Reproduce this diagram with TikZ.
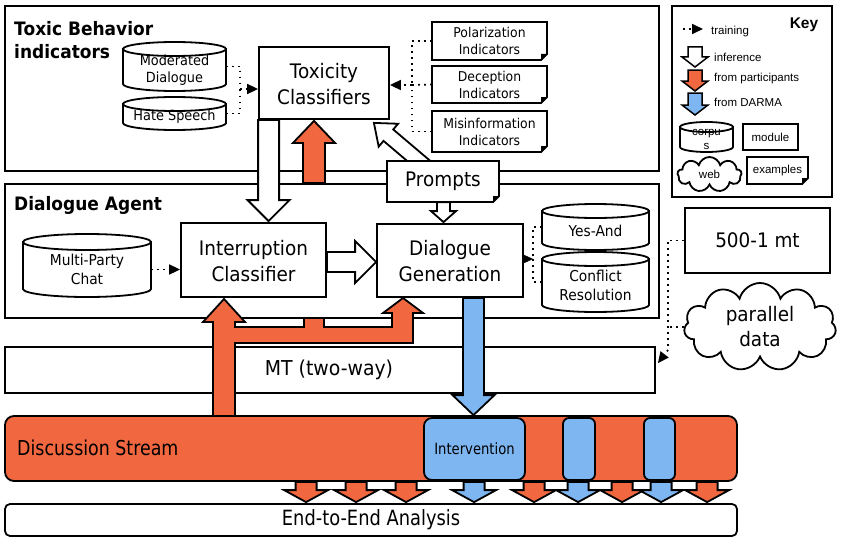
\documentclass[tikz,border=0pt]{standalone}
\usepackage{fontspec}
\setmainfont{DejaVu Sans}[FakeStretch=0.92]
\newfontfamily\condf{DejaVu Sans}[FakeStretch=0.85]
\newfontfamily\arialf{Liberation Sans}
\usetikzlibrary{arrows.meta,calc,fit,shapes.symbols}
\definecolor{orng}{RGB}{241,104,64}
\definecolor{blu}{RGB}{126,182,242}

\newcommand{\blockarrow}[6]{%
  \coordinate (bA) at (#1); \coordinate (bB) at (#2);
  \coordinate (bH) at ($(bB)!#5!(bA)$);
  \draw[#6] ($(bA)!#3!90:(bB)$) -- ($(bH)!#3!90:(bB)$) -- ($(bH)!#4!90:(bB)$) -- (bB)
    -- ($(bH)!#4!-90:(bB)$) -- ($(bH)!#3!-90:(bB)$) -- ($(bA)!#3!-90:(bB)$) -- cycle;}

\newcommand{\cylshape}[8]{%
  \node[inner sep=0pt, fit={(#2,#3) (#4,#5)}] (#1) {};
  \draw[bline, fill=white] (#2,#3+#6) -- (#2,#5-#6)
    arc[start angle=180, end angle=360, x radius={(#4-#2)/2*1pt}, y radius={#6*1pt}]
    -- (#4,#3+#6) -- cycle;
  \draw[bline, fill=white] ({(#2+#4)/2},#3+#6) ellipse[x radius={(#4-#2)/2*1pt}, y radius={#6*1pt}];
  \node[align=center, inner sep=0pt, font=#7] (#1-t) at ($(#1.center)+(0,#6*0.5)$) {#8};}

\newcommand{\docshape}[7]{%
  \node[inner sep=0pt, fit={(#2,#3) (#4,#5)}] (#1) {};
  \draw[bline, fill=white] (#2,#3) -- (#4,#3) -- (#4,#5-6) -- (#4-6,#5) -- (#2,#5) -- cycle;
  \fill (#4,#5-6) -- (#4-6,#5) -- (#4-6,#5-6) -- cycle;
  \node[align=center, inner sep=0pt, font=#6] (#1-t) at (#1.center) {#7};}

\begin{document}
\begin{tikzpicture}[x=1pt, y=-1pt, line join=miter,
  bline/.style={line width=1.8pt},
  box/.style={draw, bline, fill=white, inner sep=0pt},
  lbl/.style={inner sep=0pt, align=center},
  dotline/.style={line width=1.7pt, dash pattern=on 1.7pt off 4.3pt},
  tri/.style={-{Triangle[length=11pt,width=10pt]}},
  f20/.style={lbl, font=\fontsize{20}{26}\selectfont},
  ttl/.style={font=\bfseries\fontsize{18.5}{23}\selectfont, inner sep=0pt, anchor=west, align=left},
  keyt/.style={font=\arialf\fontsize{11.5}{14}\selectfont, inner sep=0pt, anchor=west}]
\useasboundingbox (0,0) rectangle (845,543);
\fill[white] (0,0) rectangle (845,543);

% ---------- main frames ----------
\node[box, fit={(5,6) (659,171)}] (topbox) {};
\node[box, fit={(5,184) (659,318)}] (agent) {};
\node[box, fit={(5,347) (655,393)}] (mt) {};
\node[lbl, font=\fontsize{20.5}{24}\selectfont] (mt-t) at (329,370) {MT (two-way)};
\node[ttl] (t1) at (14,40.5) {Toxic Behavior\\indicators};
\node[ttl] (t2) at (14,205) {Dialogue Agent};

% ---------- Toxic behaviour contents ----------
\cylshape{modd}{123}{42}{226}{91}{7}{\fontsize{14}{17}\selectfont}{Moderated\\Dialogue}
\cylshape{hate}{123}{97}{226}{130}{7}{\fontsize{14}{17}\selectfont}{Hate Speech}
\node[box, fit={(259,47) (389,119)}] (tox) {};
\node[f20] (tox-t) at ($(tox.center)+(0,1)$) {Toxicity\\Classifiers};
\docshape{pol}{432}{22}{547}{60}{\fontsize{13.5}{17}\selectfont}{Polarization\\Indicators}
\docshape{dec}{432}{66}{547}{103}{\fontsize{13.5}{17}\selectfont}{Deception\\Indicators}
\docshape{mis}{432}{111}{547}{152}{\fontsize{13.5}{17}\selectfont}{Misinformation\\Indicators}

\coordinate (j1) at (240,89);
\draw[dotline] (modd.east) -| (j1);
\draw[dotline] (hate.east) -| (j1);
\draw[dotline, tri] (j1) -- (j1 -| tox.west);
\coordinate (j2) at (412,85);
\draw[dotline] (pol.west) -| (j2);
\draw[dotline] (mis.west) -| (j2);
\draw[dotline] (dec.west) -- (j2);
\draw[dotline, tri] (j2) -- (j2 -| tox.east);

% ---------- Key ----------
\node[box, fit={(672,6) (832,197)}] (key) {};
\node[font=\arialf\bfseries\fontsize{15.5}{18}\selectfont, inner sep=0pt] (keyt) at (804,25) {Key};
\coordinate (kt1) at (683,29); \coordinate (kt2) at (703,29);
\draw[dotline, tri] (kt1) -- (kt2);
\node[keyt] (k1) at (711,32) {training};
\blockarrow{695,47}{695,67}{7pt}{13pt}{10pt}{line width=1.5pt, fill=white}
\node[keyt] (k2) at (714,57) {inference};
\blockarrow{695,70}{695,91}{7pt}{13pt}{10pt}{line width=1.5pt, fill=orng}
\node[keyt] (k3) at (714,79) {from participants};
\blockarrow{695,93}{695,115}{7pt}{13pt}{10pt}{line width=1.5pt, fill=blu}
\node[keyt] (k4) at (714,102) {from DARMA};
\cylshape{kcorp}{680}{122}{733}{152}{5}{\arialf\fontsize{11.5}{14}\selectfont}{corpu\\s}
\node[box, fit={(743,124) (798,150)}] (kmod) {};
\node[lbl, font=\arialf\fontsize{11.5}{14}\selectfont] (kmod-t) at (kmod.center) {module};
\node[cloud, draw, bline, fill=white, cloud puffs=9, cloud ignores aspect, minimum width=64pt, minimum height=35pt, inner sep=0pt, font=\arialf\fontsize{11.5}{14}\selectfont] (kweb) at (709.5,174.5) {web};
\docshape{kex}{747}{157}{808}{184}{\arialf\fontsize{11.5}{14}\selectfont}{examples}

% ---------- Dialogue agent contents ----------
\cylshape{mpc}{23}{234}{151}{297}{8}{\fontsize{15}{19}\selectfont}{Multi-Party\\Chat}
\node[box, fit={(181,223) (326,297)}] (intc) {};
\node[f20] (intc-t) at ($(intc.center)+(0,1)$) {Interruption\\Classifier};
\node[box, fit={(377,224) (523,297)}] (dgen) {};
\node[f20] (dgen-t) at ($(dgen.center)+(0,1)$) {Dialogue\\Generation};
\cylshape{yes}{542}{204}{649}{250}{7}{\fontsize{15}{19}\selectfont}{Yes-And}
\cylshape{conf}{542}{252}{649}{312}{7}{\fontsize{15}{19}\selectfont}{Conflict\\Resolution}
\draw[dotline, tri] ($(mpc.east)+(0,4)$) -- ($(mpc.east -| intc.west)+(0,4)$);
\coordinate (j3) at (533,259);
\draw[dotline] (yes.west) -| (j3);
\draw[dotline] (conf.west) -| (j3);
\draw[tri] (j3 -| dgen.east) -- (j3);

% ---------- right side ----------
\node[box, fit={(685,208) (830,273)}] (mt500) {};
\node[f20] (mt500-t) at (mt500.center) {500-1 mt};
\node[cloud, draw, bline, fill=white, cloud puffs=11, cloud ignores aspect, minimum width=152pt, minimum height=88pt, inner sep=1pt, align=center, font=\fontsize{20}{25}\selectfont] (par) at (760,327) {parallel\\data};
\coordinate (j4) at (668,240.5);
\coordinate (j5) at (668,350);
\draw[dotline] (mt500.west) -- (j4) -- (j5);
\draw[dotline] (par.west) -- (par.west -| j4);
\draw[dotline, tri] (j5) -- ($(mt.north east)+(2,17)$);

% ---------- Discussion stream and analysis ----------
\node[draw, bline, fill=orng, rounded corners=9pt, inner sep=0pt, fit={(5,416) (737,481)}] (disc) {};
\node[anchor=west, inner sep=0pt, font=\condf\fontsize{20.5}{24}\selectfont] (dst) at (17,448) {Discussion Stream};
\node[draw, bline, fill=blu, rounded corners=8pt, inner sep=0pt, fit={(424,418) (525,480)}] (intv) {};
\node[lbl, font=\condf\fontsize{15.5}{18}\selectfont] (intv-t) at (intv.center) {Intervention};
\node[draw, bline, fill=blu, rounded corners=6pt, inner sep=0pt, fit={(563,418) (595,480)}] (bar1) {};
\node[draw, bline, fill=blu, rounded corners=6pt, inner sep=0pt, fit={(644,418) (675,480)}] (bar2) {};
\node[draw, bline, fill=white, rounded corners=5pt, inner sep=0pt, fit={(5,504) (737,536)}] (e2e) {};
\node[lbl, font=\condf\fontsize{21}{24}\selectfont] (e2e-t) at (e2e.center) {End-to-End Analysis};

\foreach \cx in {307,357,407,535,623,708}{%
  \blockarrow{$(disc.south west)+(\cx-5,0)$}{$(e2e.north west)+(\cx-5,-1)$}{10.5pt}{22pt}{12pt}{bline, fill=orng}}
\foreach \cx in {475,579,662}{%
  \blockarrow{$(disc.south west)+(\cx-5,0)$}{$(e2e.north west)+(\cx-5,-1)$}{10.5pt}{22pt}{12pt}{bline, fill=blu}}

% ---------- big arrows ----------
\draw[bline, fill=orng] (213,416) -- (213,322) -- (203,322) -- (224,299) -- (245,322) -- (235,322)
  -- (235,327) -- (304,327) -- (304,318) -- (324,318) -- (324,327) -- (392,327) -- (392,313)
  -- (383,313) -- (403,298) -- (423,313) -- (413,313) -- (413,343) -- (235,343) -- (235,416) -- cycle;
\coordinate (o1) at (314,183);
\blockarrow{o1}{$(o1 |- tox.south)+(0,1)$}{11pt}{21pt}{22pt}{bline, fill=orng}
\blockarrow{$(tox.south west)+(10.5,0)$}{$(intc.north west)+(88.5,-1)$}{10.5pt}{21pt}{21pt}{bline, fill=white}
\blockarrow{$(intc.east)+(0,2)$}{$(dgen.west |- intc.east)+(0,2)$}{10pt}{21pt}{21pt}{bline, fill=white}
\blockarrow{$(dgen.south)+(23.5,0)$}{$(intv.north)+(-1,-2)$}{10.5pt}{21pt}{20pt}{bline, fill=blu}

% ---------- prompts ----------
\node[inner sep=0pt, fit={(387,161) (499,202)}] (prmbox) {};
\blockarrow{$(prmbox.north)+(-15,8)$}{$(tox.south east)+(-16,3)$}{7.5pt}{15pt}{19pt}{bline, fill=white}
\docshape{prm}{387}{161}{499}{202}{\fontsize{20}{24}\selectfont}{Prompts}
\blockarrow{$(prm.south)+(0.5,0)$}{$(prm.south |- dgen.north)+(0.5,-1)$}{6.5pt}{12.5pt}{11pt}{bline, fill=white}
\end{tikzpicture}
\end{document}
